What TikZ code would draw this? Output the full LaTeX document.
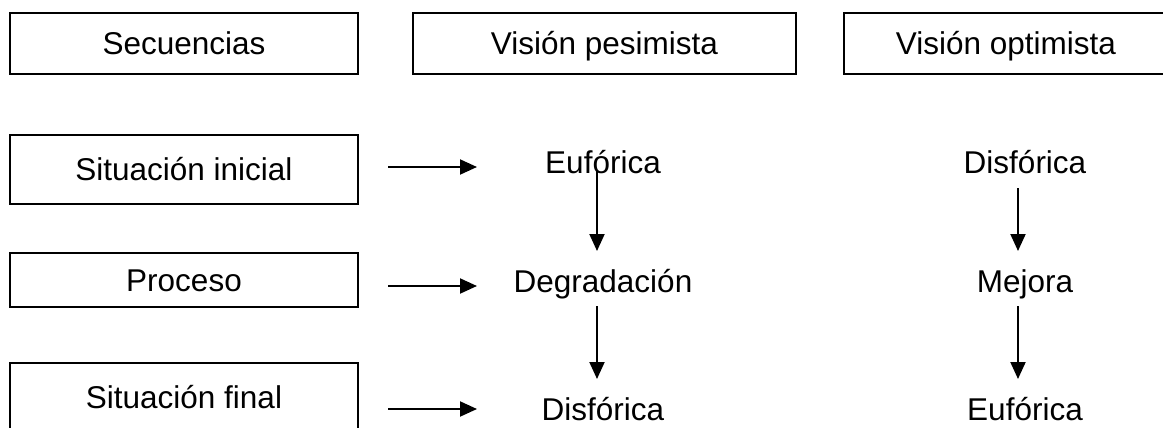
\documentclass[tikz,border=0pt]{standalone}
\usepackage{fontspec}
\setmainfont{Liberation Sans}
\usetikzlibrary{arrows.meta}
\tikzset{
	caja/.style={draw, line width=2pt, inner sep=0pt, text height=22.6pt, text depth=0pt, anchor=north west},
	texto/.style={anchor=base, inner sep=0pt},
	flecha/.style={line width=2pt, -{Triangle[length=17pt,width=15pt]}}
}
\begin{document}
\begin{tikzpicture}[x=1pt,y=-1pt,font=\fontsize{31.5}{38}\selectfont]
	\useasboundingbox (0,0) rectangle (1163,428);
	\clip (0,0) rectangle (1163,428);
	\node [caja, minimum width=348pt, minimum height=61pt] (sec) at (9,12) {Secuencias};
	\node [caja, minimum width=383pt, minimum height=61pt] (pes) at (412,12) {Visión pesimista};
	\node [caja, minimum width=324pt, minimum height=61pt] (opt) at (843,12) {Visión optimista};
	\node [caja, minimum width=348pt, minimum height=69pt] (ini) at (9,134) {Situación inicial};
	\node [caja, minimum width=348pt, minimum height=54pt] (pro) at (9,252) {Proceso};
	\node [caja, minimum width=348pt, minimum height=68pt] (fin) at (9,362) {Situación final};
	\node [texto] (euf1) at (603,173) {Eufórica};
	\node [texto] (deg) at (603,292) {Degradación};
	\node [texto] (dis1) at (603,420) {Disfórica};
	\node [texto] (dis2) at (1025,173) {Disfórica};
	\node [texto] (mej) at (1025,292) {Mejora};
	\node [texto] (euf2) at (1025,420) {Eufórica};
	\coordinate (h1) at (388,167);
	\coordinate (h1b) at (477,167);
	\coordinate (h2) at (388,286);
	\coordinate (h2b) at (477,286);
	\coordinate (h3) at (388,409);
	\coordinate (h3b) at (477,409);
	\coordinate (p1) at (597,170);
	\coordinate (p1b) at (597,251);
	\coordinate (p2) at (597,306);
	\coordinate (p2b) at (597,379);
	\coordinate (o1) at (1018,188);
	\coordinate (o1b) at (1018,251);
	\coordinate (o2) at (1018,306);
	\coordinate (o2b) at (1018,379);
	\draw [flecha] (h1)-- (h1b);
	\draw [flecha] (h2)-- (h2b);
	\draw [flecha] (h3)-- (h3b);
	\draw [flecha] (p1)-- (p1b);
	\draw [flecha] (p2)-- (p2b);
	\draw [flecha] (o1)-- (o1b);
	\draw [flecha] (o2)-- (o2b);
\end{tikzpicture}
\end{document}
